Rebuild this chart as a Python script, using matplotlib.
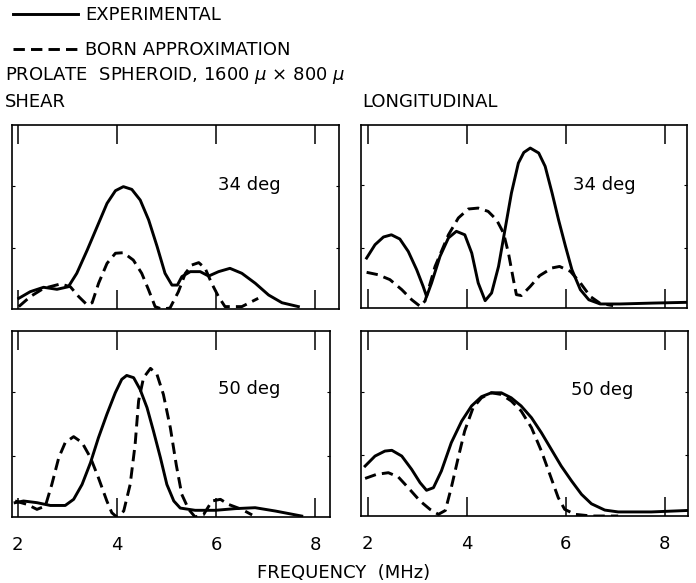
import matplotlib
matplotlib.use('Agg')
import matplotlib.pyplot as plt

# shear, 34 deg
shear34_f_exp = [2.02, 2.25, 2.52, 2.79, 3.02, 3.19, 3.4, 3.6, 3.8, 3.97, 4.13, 4.3, 4.47, 4.64, 4.81,
                 4.97, 5.11, 5.22, 5.31, 5.48, 5.68, 5.85, 6.05, 6.28, 6.52, 6.79, 7.06, 7.33, 7.66]
shear34_exp = [0.058, 0.094, 0.118, 0.107, 0.121, 0.194, 0.32, 0.447, 0.574, 0.643, 0.665, 0.65, 0.592, 0.484,
               0.34, 0.194, 0.13, 0.13, 0.176, 0.203, 0.203, 0.179, 0.203, 0.221, 0.194, 0.14, 0.076, 0.034, 0.013]
shear34_f_born = [2.02, 2.25, 2.52, 2.86, 3.06, 3.23, 3.4, 3.5, 3.63, 3.8, 3.97, 4.13, 4.33, 4.5, 4.64,
                  4.77, 4.9, 5.07, 5.24, 5.38, 5.51, 5.65, 5.78, 5.91, 6.05, 6.18, 6.52, 6.85]
shear34_born = [0.013, 0.067, 0.112, 0.136, 0.121, 0.067, 0.022, 0.034, 0.14, 0.248, 0.303, 0.306, 0.266, 0.194,
                0.103, 0.013, 0.0, 0.005, 0.094, 0.194, 0.239, 0.252, 0.221, 0.14, 0.067, 0.013, 0.013, 0.058]

# longitudinal, 34 deg
long34_f_exp = [1.98, 2.15, 2.32, 2.48, 2.65, 2.82, 2.99, 3.12, 3.19, 3.29, 3.46, 3.63, 3.79, 3.96, 4.1,
                4.23, 4.37, 4.5, 4.64, 4.77, 4.9, 5.04, 5.15, 5.28, 5.45, 5.58, 5.72, 5.85, 5.99, 6.12,
                6.29, 6.46, 6.69, 7.09, 7.77, 8.44]
long34_exp = [0.273, 0.346, 0.388, 0.4, 0.377, 0.309, 0.209, 0.118, 0.063, 0.137, 0.282, 0.383, 0.419, 0.4, 0.3,
              0.137, 0.04, 0.082, 0.227, 0.428, 0.628, 0.792, 0.85, 0.874, 0.847, 0.774, 0.628, 0.482, 0.337, 0.209,
              0.1, 0.045, 0.022, 0.022, 0.027, 0.031]
long34_f_born = [1.98, 2.21, 2.45, 2.69, 2.89, 3.06, 3.16, 3.36, 3.63, 3.83, 4.03, 4.23, 4.43, 4.6, 4.74,
                 4.84, 4.94, 5.0, 5.1, 5.28, 5.47, 5.72, 5.87, 6.09, 6.29, 6.49, 6.69, 6.95]
long34_born = [0.195, 0.182, 0.155, 0.1, 0.045, 0.009, 0.039, 0.227, 0.4, 0.492, 0.541, 0.546, 0.528, 0.482, 0.41,
               0.3, 0.155, 0.073, 0.068, 0.118, 0.177, 0.219, 0.227, 0.2, 0.137, 0.063, 0.025, 0.013]

# shear, 50 deg
shear50_f_exp = [1.95, 2.12, 2.39, 2.66, 2.96, 3.13, 3.3, 3.47, 3.63, 3.8, 3.97, 4.1, 4.2, 4.34, 4.47,
                 4.61, 4.74, 4.88, 5.01, 5.15, 5.28, 5.58, 5.99, 6.39, 6.79, 7.2, 7.73]
shear50_exp = [0.077, 0.086, 0.077, 0.062, 0.062, 0.095, 0.175, 0.292, 0.426, 0.552, 0.668, 0.74, 0.761, 0.749,
               0.686, 0.588, 0.462, 0.319, 0.175, 0.086, 0.048, 0.036, 0.036, 0.045, 0.05, 0.032, 0.005]
shear50_f_born = [1.95, 2.19, 2.39, 2.56, 2.69, 2.83, 2.96, 3.13, 3.3, 3.47, 3.63, 3.8, 3.9, 4.0, 4.14,
                  4.27, 4.37, 4.44, 4.54, 4.68, 4.81, 4.94, 5.08, 5.2, 5.31, 5.45, 5.58, 5.75, 5.92, 6.09,
                  6.25, 6.52, 6.73]
shear50_born = [0.086, 0.068, 0.041, 0.059, 0.175, 0.319, 0.4, 0.432, 0.4, 0.319, 0.211, 0.086, 0.023, 0.0, 0.032,
                0.175, 0.39, 0.624, 0.749, 0.799, 0.767, 0.659, 0.48, 0.28, 0.122, 0.041, 0.0, 0.013, 0.086, 0.095,
                0.068, 0.041, 0.011]

# longitudinal, 50 deg
long50_f_exp = [1.95, 2.15, 2.35, 2.49, 2.69, 2.89, 3.06, 3.19, 3.33, 3.49, 3.69, 3.9, 4.1, 4.3, 4.5,
                4.7, 4.9, 5.1, 5.31, 5.51, 5.71, 5.91, 6.12, 6.32, 6.52, 6.79, 7.06, 7.73, 8.47]
long50_exp = [0.27, 0.324, 0.351, 0.355, 0.324, 0.252, 0.18, 0.139, 0.153, 0.243, 0.396, 0.513, 0.595, 0.645,
              0.666, 0.666, 0.639, 0.595, 0.531, 0.45, 0.36, 0.27, 0.189, 0.117, 0.066, 0.032, 0.022, 0.022, 0.03]
long50_f_born = [1.95, 2.18, 2.42, 2.62, 2.82, 3.06, 3.26, 3.43, 3.57, 3.69, 3.83, 3.96, 4.13, 4.3, 4.5,
                 4.7, 4.9, 5.1, 5.31, 5.51, 5.68, 5.85, 5.98, 6.19, 6.52, 7.06]
long50_born = [0.203, 0.225, 0.234, 0.211, 0.153, 0.081, 0.036, 0.009, 0.03, 0.153, 0.315, 0.459, 0.585, 0.639,
               0.666, 0.657, 0.622, 0.568, 0.477, 0.351, 0.225, 0.099, 0.036, 0.009, 0.0, 0.0]

freq_ticks = [2, 4, 6, 8]
angle_labels = ['34 deg', '34 deg', '50 deg', '50 deg']

W, H = 696, 583


def rect(left, right, top, bottom):
    return [left / W, (H - bottom) / H, (right - left) / W, (bottom - top) / H]


panels = [
    (rect(12, 339, 125, 309), (1.883, 8.48), shear34_f_exp, shear34_exp, shear34_f_born, shear34_born, False, (0.63, 0.674)),
    (rect(361, 687, 125, 308), (1.867, 8.44), long34_f_exp, long34_exp, long34_f_born, long34_born, False, (0.651, 0.674)),
    (rect(12, 330, 331, 517), (1.887, 8.30), shear50_f_exp, shear50_exp, shear50_f_born, shear50_born, True, (0.648, 0.686)),
    (rect(361, 688, 331, 516), (1.867, 8.47), long50_f_exp, long50_exp, long50_f_born, long50_born, True, (0.643, 0.679)),
]

plt.rcParams['font.family'] = 'DejaVu Sans'
fig = plt.figure(figsize=(6.96, 5.83), dpi=100)

dash = (0, (3.9, 2.1))
handles = None
for (r, xl, fe, ye, fb, yb, show_labels, txy), label in zip(panels, angle_labels):
    ax = fig.add_axes(r)
    l1, = ax.plot(fe, ye, color='black', lw=2.1, solid_joinstyle='round')
    l2, = ax.plot(fb, yb, color='black', lw=2.1, linestyle=dash)
    handles = (l1, l2)
    ax.set_xlim(*xl)
    ax.set_ylim(0, 1)
    ax.set_xticks(freq_ticks)
    ax.set_yticks([0.33, 0.67])
    ax.tick_params(axis='x', direction='in', length=14, width=1.1, top=True, bottom=True,
                   labelsize=13, pad=14, labelbottom=show_labels)
    ax.tick_params(axis='y', direction='in', length=2.5, width=0.8, left=True, right=True,
                   labelleft=False)
    for s in ax.spines.values():
        s.set_linewidth(1.2)
    ax.text(txy[0], txy[1], label, transform=ax.transAxes, fontsize=13, ha='left', va='center')

fig.legend(handles, ['EXPERIMENTAL', 'BORN APPROXIMATION'], loc='upper left',
           bbox_to_anchor=(0.016, 0.993), frameon=False, fontsize=13, handlelength=3.6,
           handletextpad=0.4, labelspacing=0.95, borderpad=0.1, borderaxespad=0)

fig.text(5 / W, 1 - 75 / H, 'PROLATE  SPHEROID, 1600 $\\mu$ × 800 $\\mu$', fontsize=13,
         ha='left', va='center')
fig.text(5 / W, 1 - 102 / H, 'SHEAR', fontsize=13, ha='left', va='center')
fig.text(362 / W, 1 - 102 / H, 'LONGITUDINAL', fontsize=13, ha='left', va='center')
fig.text(344 / W, 1 - 573 / H, 'FREQUENCY  (MHz)', fontsize=13, ha='center', va='center')

fig.savefig('out.png', dpi=100)
